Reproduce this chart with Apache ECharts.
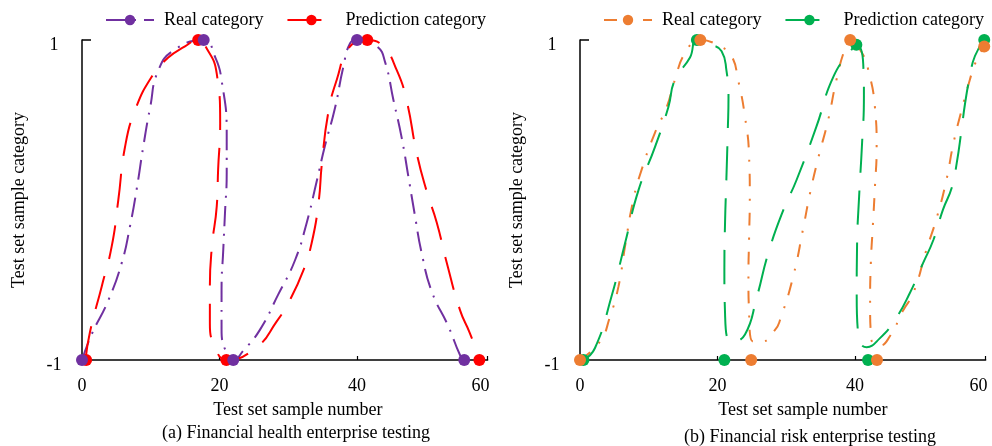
<!DOCTYPE html>
<html>
<head>
<meta charset="utf-8">
<script src="https://cdn.jsdelivr.net/npm/echarts@6/dist/echarts.min.js"></script>
<style>
html,body{margin:0;padding:0;background:#fff;}
#chart{width:992px;height:446px;}
</style>
</head>
<body>
<div id="chart"></div>
<script>
// ---- tick labels ----
const xTickLabels = ['0', '20', '40', '60'];
const yTickLabels = ['-1', '1'];
const legendNames = ['Real category', 'Prediction category'];
const xAxisName = 'Test set sample number';
const yAxisName = 'Test set sample category';
const subTitles = ['(a) Financial health enterprise testing', '(b) Financial risk enterprise testing'];

// ---- panel (a): Financial health enterprise ----
const aRealCurveX = [0,1.4,3.8,5.8,7.0,8.0,8.9,9.9,11.1,13.5,17.7,19.4,20.3,21.05,21.05,20.8,20.55,20.3,20.3,21.05,22,23.5,25.9,28.55,31.0,32.7,34.1,35.35,36.8,38.0,39.0,40,42.9,44.1,45.3,46.5,47.5,48.4,49.4,50.9,53.3,55.0,55.6];
const aRealCurveY = [-1,-0.84,-0.63,-0.39,-0.16,0.08,0.33,0.575,0.81,0.94,1,0.89,0.75,0.42,0.17,-0.08,-0.31,-0.56,-0.81,-0.96,-1,-0.94,-0.81,-0.59,-0.375,-0.14,0.11,0.34,0.575,0.83,0.98,1,0.96,0.86,0.625,0.39,0.14,-0.09,-0.33,-0.575,-0.79,-0.97,-1];
const aPredCurveX = [0.5,1.16,2.87,4.32,5.28,6.25,7.71,10.14,12.55,14.98,16.8,18.1,19.6,20.1,19.8,19.6,18.9,18.6,18.6,19.35,21,25.4,28.3,30.25,32.2,33.4,34.4,34.9,35.8,37.05,39.0,41.5,43.8,45.8,47.2,48.7,50.1,51.6,53.05,55.0,56.4,57.6,57.8];
const aPredCurveY = [-1,-0.825,-0.54,-0.29,0.0,0.33,0.56,0.77,0.89,0.96,1,0.95,0.79,0.48,0.19,-0.04,-0.29,-0.54,-0.77,-0.92,-1,-0.92,-0.76,-0.625,-0.44,-0.27,-0.02,0.23,0.54,0.75,0.96,1,0.96,0.81,0.625,0.29,0.06,-0.14,-0.39,-0.69,-0.83,-0.97,-1];
const aRealDotX = [0,17.7,22,40,55.6];
const aRealDotY = [-1,1,-1,1,-1];
const aPredDotX = [0.6,16.9,21,41.5,57.8];
const aPredDotY = [-1,1,-1,1,-1];

// ---- panel (b): Financial risk enterprise ----
const bRealCurveX = [0,2.9,4.36,5.6,6.55,7.75,8.97,10.9,12.6,13.8,15.3,17.5,20.4,22.05,23.0,24.0,24.6,24.7,24.6,24.5,24.6,25.2,26.4,28.4,29.1,31.0,32.5,33.45,34.7,36.1,37.3,38.5,39.3,41.0,41.95,42.9,43.15,42.9,42.6,42.3,42.2,42.4,43.6,45.1,47.0,48.5,50.4,51.9,53.3,54.3,55.5,56.7,57.45,58.8];
const bRealCurveY = [-1,-0.885,-0.73,-0.54,-0.29,0.0,0.19,0.42,0.58,0.75,0.92,1,0.96,0.9,0.75,0.52,0.27,0.02,-0.23,-0.48,-0.71,-0.885,-0.885,-0.81,-0.75,-0.48,-0.17,0.04,0.27,0.5,0.75,0.94,1,0.92,0.81,0.58,0.33,0.08,-0.16,-0.40,-0.65,-0.875,-0.91,-0.85,-0.69,-0.58,-0.31,-0.11,0.125,0.35,0.56,0.75,0.85,0.96];
const bPredCurveX = [0.5,2.18,4.6,6.55,8.5,10.9,12.85,13.8,16.0,17.0,19.15,20.6,21.3,21.6,21.5,21.3,21.1,21.0,21.1,22.1,24.0,25.7,27.4,29.6,31.5,34.4,36.85,39.5,40.2,41.2,41.3,41.0,40.6,40.3,40.25,40.5,41.7,43.6,45.8,48.0,49.9,51.4,52.8,54.1,54.8,55.5,56.0,56.7,57.45,58.8];
const bPredCurveY = [-1,-0.925,-0.6,-0.27,0.06,0.33,0.58,0.75,0.89,1,0.97,0.93,0.81,0.64,0.44,0.14,-0.14,-0.44,-0.71,-0.89,-0.84,-0.61,-0.33,-0.06,0.125,0.46,0.77,0.94,0.97,0.85,0.65,0.33,0.02,-0.29,-0.6,-0.855,-0.92,-0.865,-0.75,-0.58,-0.395,-0.25,-0.06,0.08,0.23,0.44,0.6,0.77,0.9,1];
const bRealDotX = [0,17.5,24.9,39.3,43.2,58.8];
const bRealDotY = [-1,1,-1,1,-1,0.96];
const bPredDotX = [0.5,17.0,21.0,40.2,41.9,58.8];
const bPredDotY = [-1,1,-1,0.97,-1,1];

const zip = (xs, ys) => xs.map((x, i) => [x, ys[i]]);

const FONT = '"Liberation Serif", "Times New Roman", serif';
const FS = 18;
const COLORS = { purple: '#7030A0', red: '#FF0000', orange: '#ED7D31', green: '#00B050' };

function axisPair(idx, nameShift) {
  const x = {
    type: 'value', gridIndex: idx, min: 0, max: 59, interval: 20,
    name: xAxisName, nameLocation: 'middle', nameGap: 41,
    nameTextStyle: { fontFamily: FONT, fontSize: FS, color: '#000', padding: [0, 0, 0, nameShift] },
    axisLine: { onZero: false, lineStyle: { color: '#000', width: 1.5 } },
    axisTick: { show: true, inside: true, length: 4, lineStyle: { color: '#000', width: 1.2 } },
    axisLabel: { margin: 17, fontFamily: FONT, fontSize: FS, color: '#000', showMaxLabel: true,
      formatter: (v, i) => i === xTickLabels.length - 1 ? '{last|' + xTickLabels[i] + '}' : xTickLabels[i],
      rich: { last: { fontFamily: FONT, fontSize: FS, color: '#000', padding: [0, 14, 0, 0] } } },
    splitLine: { show: false }
  };
  const y = {
    type: 'value', gridIndex: idx, min: -1, max: 1, interval: 2,
    name: yAxisName, nameLocation: 'middle', nameGap: 54,
    nameTextStyle: { fontFamily: FONT, fontSize: FS, color: '#000' },
    axisLine: { show: true, onZero: false, lineStyle: { color: '#000', width: 1.5 } },
    axisTick: { show: true, inside: true, length: 9, lineStyle: { color: '#000', width: 1.5 } },
    axisLabel: { margin: 28, align: 'center', fontFamily: FONT, fontSize: FS, color: '#000',
      formatter: (v, i) => '{v|' + yTickLabels[i] + '}',
      rich: { v: { fontFamily: FONT, fontSize: FS, color: '#000', padding: [10, 0, 0, 0] } } },
    splitLine: { show: false }
  };
  return [x, y];
}

const [xa, ya] = axisPair(0, 26);
const [xb, yb] = axisPair(1, 40);

function lineSeries(name, idx, xs, ys, color, dash) {
  return {
    name: name, type: 'line', xAxisIndex: idx, yAxisIndex: idx,
    data: zip(xs, ys), smooth: 0.5, showSymbol: false, symbol: 'circle', symbolSize: 10,
    lineStyle: { color: color, width: 2, type: dash },
    itemStyle: { color: color }, z: 2, silent: true
  };
}
function dotSeries(name, idx, xs, ys, color) {
  return {
    name: name, type: 'scatter', xAxisIndex: idx, yAxisIndex: idx,
    data: zip(xs, ys), symbol: 'circle', symbolSize: 12,
    itemStyle: { color: color, opacity: 1 }, z: 4, silent: true
  };
}

const dashReal = [20, 8, 2, 8];
const dashRealB = [13, 12, 2, 12];
const dashPred = [34, 18];

const legendCommon = {
  top: 6, itemWidth: 48, itemHeight: 13, itemGap: 23,
  textStyle: { fontFamily: FONT, fontSize: FS, color: '#000', padding: [0, 0, 0, 5] },
  formatter: n => n.split(':')[1]
};

const option = {
  animation: false,
  backgroundColor: '#fff',
  grid: [
    { left: 82, top: 40, width: 405.6, height: 320 },
    { left: 580, top: 40, width: 405.6, height: 320 }
  ],
  xAxis: [xa, xb],
  yAxis: [ya, yb],
  legend: [
    Object.assign({ left: 100, data: ['a:' + legendNames[0], 'a:' + legendNames[1]] }, legendCommon),
    Object.assign({ left: 598, data: ['b:' + legendNames[0], 'b:' + legendNames[1]] }, legendCommon)
  ],
  graphic: [
    { type: 'text', x: 296, y: 433, style: { text: subTitles[0], align: 'center', verticalAlign: 'middle', fontFamily: FONT, fontSize: FS, fill: '#000' } },
    { type: 'text', x: 810, y: 437, style: { text: subTitles[1], align: 'center', verticalAlign: 'middle', fontFamily: FONT, fontSize: FS, fill: '#000' } }
  ],
  series: [
    lineSeries('a:' + legendNames[0], 0, aRealCurveX, aRealCurveY, COLORS.purple, dashReal),
    lineSeries('a:' + legendNames[1], 0, aPredCurveX, aPredCurveY, COLORS.red, dashPred),
    dotSeries('a:dotsPred', 0, aPredDotX, aPredDotY, COLORS.red),
    dotSeries('a:dotsReal', 0, aRealDotX, aRealDotY, COLORS.purple),
    lineSeries('b:' + legendNames[0], 1, bRealCurveX, bRealCurveY, COLORS.orange, dashRealB),
    lineSeries('b:' + legendNames[1], 1, bPredCurveX, bPredCurveY, COLORS.green, dashPred),
    dotSeries('b:dotsPred', 1, bPredDotX, bPredDotY, COLORS.green),
    dotSeries('b:dotsReal', 1, bRealDotX, bRealDotY, COLORS.orange)
  ]
};

const chart = echarts.init(document.getElementById('chart'), null, { renderer: 'canvas' });
chart.setOption(option);
</script>
</body>
</html>
